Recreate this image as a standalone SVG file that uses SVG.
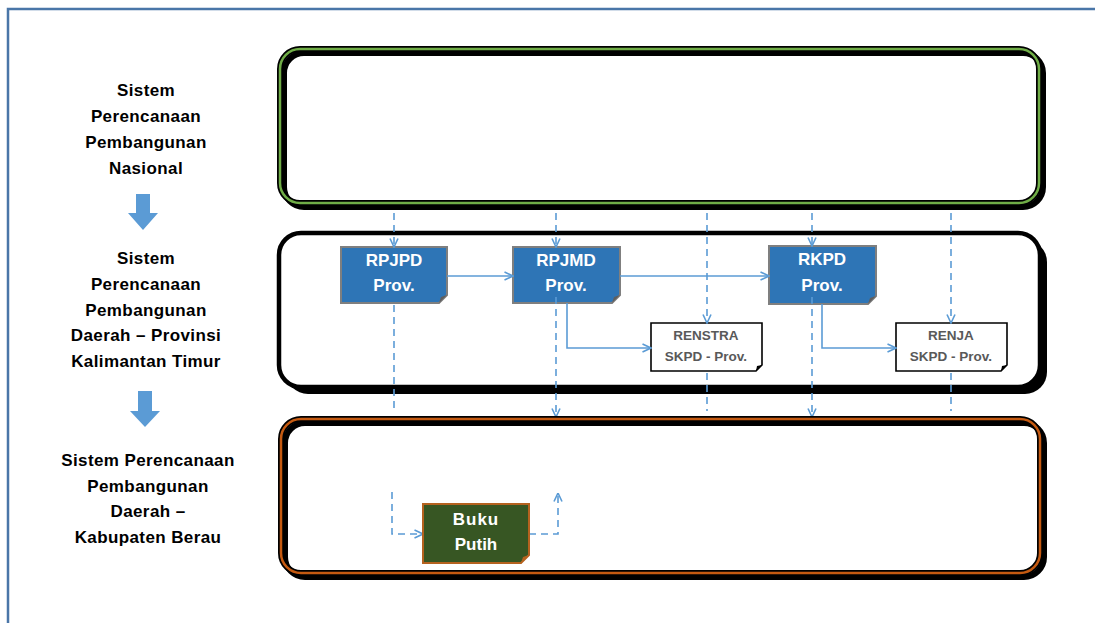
<svg xmlns="http://www.w3.org/2000/svg" width="1095" height="623" viewBox="0 0 1095 623">
<style>
.lbl{font-family:"Liberation Sans",Arial,sans-serif;font-weight:bold;font-size:17px;fill:#000;text-anchor:middle;letter-spacing:0.4px}
.wt{font-family:"Liberation Sans",Arial,sans-serif;font-weight:bold;font-size:17px;fill:#fff;text-anchor:middle}
.gt{font-family:"Liberation Sans",Arial,sans-serif;font-weight:bold;font-size:13.5px;fill:#595959;text-anchor:middle}
.blk{fill:none;stroke:#000;stroke-width:6}
.solid{fill:none;stroke:#5b9bd5;stroke-width:1.6}
.dash{fill:none;stroke:#5b9bd5;stroke-width:1.6;stroke-dasharray:7 5}
.bnode{fill:#2e75b6;stroke:#7f7f7f;stroke-width:2}
.wnode{fill:#fff;stroke:#000;stroke-width:1.6}
.fold{fill:#5f5f5f}
</style>
<defs>
<marker id="arr" viewBox="0 0 10 10" refX="9.5" refY="5" markerWidth="10" markerHeight="10" markerUnits="userSpaceOnUse" orient="auto">
<path d="M1,1 L9.5,5 L1,9" fill="none" stroke="#5b9bd5" stroke-width="1.6"/>
</marker>
</defs>
<rect width="1095" height="623" fill="#fff"/>
<!-- outer frame -->
<path d="M8,623 V9 H1095" fill="none" stroke="#4a76a8" stroke-width="2.5"/>
<!-- left labels -->
<g id="label-nasional">
<text class="lbl" x="146" y="96">Sistem</text>
<text class="lbl" x="146" y="122">Perencanaan</text>
<text class="lbl" x="146" y="148">Pembangunan</text>
<text class="lbl" x="146" y="174">Nasional</text>
</g>
<g id="arrow1"><path d="M136,194 H150 V213 H158 L143,230 L128,213 H136 Z" fill="#5b9bd5"/></g>
<g id="label-provinsi">
<text class="lbl" x="146" y="264">Sistem</text>
<text class="lbl" x="146" y="290">Perencanaan</text>
<text class="lbl" x="146" y="316">Pembangunan</text>
<text class="lbl" x="146" y="341">Daerah – Provinsi</text>
<text class="lbl" x="146" y="367">Kalimantan Timur</text>
</g>
<g id="arrow2"><path d="M138,391 H152 V411 H160 L145,427 L130,411 H138 Z" fill="#5b9bd5"/></g>
<g id="label-kabupaten">
<text class="lbl" x="148" y="466">Sistem Perencanaan</text>
<text class="lbl" x="148" y="492">Pembangunan</text>
<text class="lbl" x="148" y="517">Daerah –</text>
<text class="lbl" x="148" y="543">Kabupaten Berau</text>
</g>
<!-- national box -->
<g id="box-nasional">
<rect x="284" y="53" width="759" height="154" rx="20" class="blk"/>
<rect x="280" y="49" width="759" height="154" rx="20" class="blk"/>
<rect x="280" y="49" width="759" height="154" rx="20" fill="none" stroke="#70ad47" stroke-width="2.5"/>
</g>
<!-- provincial box -->
<g id="box-provinsi">
<rect x="286" y="240" width="761" height="154" rx="22" fill="#000"/>
<rect x="279" y="233" width="761" height="154" rx="22" fill="#fff" stroke="#000" stroke-width="4.5"/>
</g>
<!-- nodes -->
<g id="rpjpd">
<path class="bnode" d="M341,247 H447 V295 L439,303 H341 Z"/>
<path class="fold" d="M447,295 L441,297 L439,303 Z"/>
<text class="wt" x="394" y="266">RPJPD</text>
<text class="wt" x="394" y="291">Prov.</text>
</g>
<g id="rpjmd">
<path class="bnode" d="M513,247 H620 V295 L612,303 H513 Z"/>
<path class="fold" d="M620,295 L614,297 L612,303 Z"/>
<text class="wt" x="566" y="266">RPJMD</text>
<text class="wt" x="566" y="291">Prov.</text>
</g>
<g id="rkpd">
<path class="bnode" d="M769,246 H876 V296 L868,304 H769 Z"/>
<path class="fold" d="M876,296 L870,298 L868,304 Z"/>
<text class="wt" x="822" y="265">RKPD</text>
<text class="wt" x="822" y="291">Prov.</text>
</g>
<g id="renstra">
<path class="wnode" d="M651,323 H762 V365 L756,371 H651 Z"/>
<path d="M762,365 L757,366 L756,371 Z" fill="#000"/>
<text class="gt" x="706" y="340">RENSTRA</text>
<text class="gt" x="706" y="361">SKPD - Prov.</text>
</g>
<g id="renja">
<path class="wnode" d="M896,323 H1007 V365 L1001,371 H896 Z"/>
<path d="M1007,365 L1002,366 L1001,371 Z" fill="#000"/>
<text class="gt" x="951" y="340">RENJA</text>
<text class="gt" x="951" y="361">SKPD - Prov.</text>
</g>
<!-- connectors -->
<g id="connectors">
<path class="solid" d="M447,276 H513" marker-end="url(#arr)"/>
<path class="solid" d="M620,276 H769" marker-end="url(#arr)"/>
<path class="solid" d="M567,303 V348 H651" marker-end="url(#arr)"/>
<path class="solid" d="M822,304 V348 H896" marker-end="url(#arr)"/>
<path class="dash" d="M394,213 V247" marker-end="url(#arr)"/>
<path class="dash" d="M556,213 V247" marker-end="url(#arr)"/>
<path class="dash" d="M707,213 V323" marker-end="url(#arr)"/>
<path class="dash" d="M812,213 V246" marker-end="url(#arr)"/>
<path class="dash" d="M951,213 V323" marker-end="url(#arr)"/>
<path class="dash" d="M394,305 V411"/>
<path class="dash" d="M556,297 V417" marker-end="url(#arr)"/>
<path class="dash" d="M707,373 V411"/>
<path class="dash" d="M812,297 V417" marker-end="url(#arr)"/>
<path class="dash" d="M951,373 V411"/>
<path class="dash" d="M392,492 V534 H423" marker-end="url(#arr)"/>
<path class="dash" d="M529,534 H558 V493" marker-end="url(#arr)"/>
</g>
<!-- kabupaten box -->
<g id="box-kabupaten">
<rect x="285" y="423" width="759" height="154" rx="20" class="blk"/>
<rect x="281" y="419" width="759" height="154" rx="20" class="blk"/>
<rect x="281" y="419" width="759" height="154" rx="20" fill="none" stroke="#c55a11" stroke-width="2.5"/>
</g>
<g id="buku-putih">
<path d="M423,504 H529 V555 L521,563 H423 Z" fill="#375623" stroke="#b5621f" stroke-width="2"/>
<path d="M529,555 L523,557 L521,563 Z" fill="#b5621f"/>
<text class="wt" x="476" y="525" letter-spacing="1">Buku</text>
<text class="wt" x="476" y="550">Putih</text>
</g>
</svg>
